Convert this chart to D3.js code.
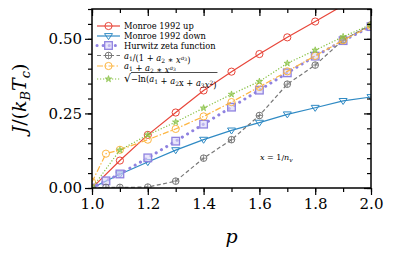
<!DOCTYPE html>
<html>
<head>
<meta charset="utf-8">
<script src="https://cdn.jsdelivr.net/npm/d3@7"></script>
<style>
  body { margin: 0; background: #fff; }
  svg { display: block; }
  svg text { font-family: 'DejaVu Serif', serif; fill: #000; font-weight: normal; }
</style>
</head>
<body>
<div id="chart"></div>
<script>
// p values (two grids: some series have an extra point at 1.05)
const pCoarse = [1.0, 1.1, 1.2, 1.3, 1.4, 1.5, 1.6, 1.7, 1.8, 1.9, 2.0];
const pFine = [1.0, 1.05, 1.1, 1.2, 1.3, 1.4, 1.5, 1.6, 1.7, 1.8, 1.9, 2.0];

const monroeUp = [0, 0.092, 0.178, 0.253, 0.327, 0.390, 0.449, 0.505, 0.558, 0.612, 0.665];
const monroeDown = [0, 0.046, 0.087, 0.127, 0.162, 0.193, 0.219, 0.247, 0.269, 0.292, 0.305];
const hurwitz = [0, 0.024, 0.047, 0.101, 0.157, 0.214, 0.271, 0.328, 0.386, 0.442, 0.494, 0.541];
const fitRational = [0, 0.002, 0.002, 0.003, 0.023, 0.100, 0.162, 0.243, 0.348, 0.412, 0.496, 0.547];
const fitPower = [0.02, 0.115, 0.128, 0.162, 0.198, 0.240, 0.288, 0.339, 0.391, 0.443, 0.495, 0.543];
const fitSqrtLog = [0, 0.127, 0.178, 0.221, 0.268, 0.314, 0.357, 0.418, 0.462, 0.507, 0.548];

const xTicks = [1.0, 1.2, 1.4, 1.6, 1.8, 2.0];
const yTicks = [0.00, 0.25, 0.50];

const width = 395, height = 256;
const margin = { left: 92, right: 24, top: 9, bottom: 68 };

const svg = d3.select("#chart").append("svg")
    .attr("width", width)
    .attr("height", height);

const x = d3.scaleLinear().domain([1, 2]).range([margin.left, width - margin.right]);
const y = d3.scaleLinear().domain([0, 0.6]).range([height - margin.bottom, margin.top]);

svg.append("clipPath").attr("id", "plot-clip")
  .append("rect")
    .attr("x", x(1)).attr("y", y(0.6))
    .attr("width", x(2) - x(1)).attr("height", y(0) - y(0.6));

// series definitions (style only; values come from the arrays above)
const series = [
  { p: pCoarse, v: monroeUp, color: "#e8463a", width: 1.2, dash: null, marker: "circle" },
  { p: pCoarse, v: monroeDown, color: "#2f8ac4", width: 1.2, dash: null, marker: "triDown" },
  { p: pFine, v: hurwitz, color: "#8f82e0", width: 3, dash: "0.1,6", cap: "round", marker: "square" },
  { p: pFine, v: fitRational, color: "#777777", width: 1.2, dash: "4,2.5", marker: "oplus" },
  { p: pFine, v: fitPower, color: "#fdb643", width: 1.2, dash: "6,2,1.5,2", marker: "circle" },
  { p: pCoarse, v: fitSqrtLog, color: "#86c040", width: 1.2, dash: "1.2,1.8", marker: "star" }
];

const line = d3.line().x(d => x(d[0])).y(d => y(d[1]));

function drawMarker(g, type, cx, cy, color) {
  if (type === "circle") {
    g.append("circle").attr("cx", cx).attr("cy", cy).attr("r", 3.6)
      .attr("fill", "none").attr("stroke", color).attr("stroke-width", 1);
  } else if (type === "triDown") {
    const s = 4;
    g.append("path")
      .attr("d", `M${cx - s},${cy - s * 0.6}L${cx + s},${cy - s * 0.6}L${cx},${cy + s * 0.9}Z`)
      .attr("fill", "none").attr("stroke", color).attr("stroke-width", 1);
  } else if (type === "square") {
    g.append("rect").attr("x", cx - 3.8).attr("y", cy - 3.8).attr("width", 7.6).attr("height", 7.6)
      .attr("fill", "#d9d4f7").attr("fill-opacity", 0.6).attr("stroke", color).attr("stroke-width", 1.3);
  } else if (type === "oplus") {
    g.append("circle").attr("cx", cx).attr("cy", cy).attr("r", 3.3)
      .attr("fill", "none").attr("stroke", color).attr("stroke-width", 1);
    g.append("path").attr("d", `M${cx - 3.3},${cy}H${cx + 3.3}M${cx},${cy - 3.3}V${cy + 3.3}`)
      .attr("stroke", color).attr("stroke-width", 0.8);
  } else if (type === "star") {
    g.append("path")
      .attr("d", d3.symbol().type(d3.symbolStar).size(13)())
      .attr("transform", `translate(${cx},${cy})`)
      .attr("fill", color).attr("fill-opacity", 0.6).attr("stroke", color).attr("stroke-width", 0.7);
  }
}

const plot = svg.append("g").attr("clip-path", "url(#plot-clip)");

series.forEach(s => {
  const pts = s.p.map((p, i) => [p, s.v[i]]);
  plot.append("path")
    .datum(pts)
    .attr("d", line)
    .attr("fill", "none")
    .attr("stroke", s.color)
    .attr("stroke-width", s.width)
    .attr("stroke-dasharray", s.dash)
    .attr("stroke-linecap", s.cap || "butt");
  const mg = plot.append("g");
  pts.forEach(d => drawMarker(mg, s.marker, x(d[0]), y(d[1]), s.color));
});

// ---------------- axes ----------------
const xMinor = d3.range(1.0, 2.001, 0.1);
const yMinor = d3.range(0, 0.601, 0.05);

svg.append("g").attr("transform", `translate(0,${y(0)})`)
  .call(d3.axisBottom(x).tickValues(xTicks).tickFormat(d3.format(".1f")).tickSize(7).tickPadding(3));
svg.append("g").attr("transform", `translate(0,${y(0)})`)
  .call(d3.axisBottom(x).tickValues(xMinor).tickFormat("").tickSize(4));
svg.append("g").attr("transform", `translate(${x(1)},0)`)
  .call(d3.axisLeft(y).tickValues(yTicks).tickFormat(d3.format(".2f")).tickSize(7).tickPadding(3));
svg.append("g").attr("transform", `translate(${x(1)},0)`)
  .call(d3.axisLeft(y).tickValues(yMinor).tickFormat("").tickSize(4));
// top and right: inward ticks
svg.append("g").attr("transform", `translate(0,${y(0.6)})`)
  .call(d3.axisTop(x).tickValues(xTicks).tickFormat("").tickSize(-7));
svg.append("g").attr("transform", `translate(0,${y(0.6)})`)
  .call(d3.axisTop(x).tickValues(xMinor).tickFormat("").tickSize(-4));
svg.append("g").attr("transform", `translate(${x(2)},0)`)
  .call(d3.axisRight(y).tickValues(yTicks).tickFormat("").tickSize(-7));
svg.append("g").attr("transform", `translate(${x(2)},0)`)
  .call(d3.axisRight(y).tickValues(yMinor).tickFormat("").tickSize(-4));

svg.selectAll(".domain").remove();
svg.selectAll("g").attr("font-family", null).attr("font-size", null);
svg.selectAll(".tick line").attr("stroke", "#000").attr("stroke-width", 1.2);
svg.selectAll(".tick text").style("font-size", "15px").attr("fill", "#000");

svg.append("rect")
  .attr("x", x(1)).attr("y", y(0.6))
  .attr("width", x(2) - x(1)).attr("height", y(0) - y(0.6))
  .attr("fill", "none").attr("stroke", "#000").attr("stroke-width", 1.5);

// axis labels
svg.append("text")
  .attr("x", (x(1) + x(2)) / 2).attr("y", 243)
  .attr("text-anchor", "middle")
  .style("font-size", "19px").style("font-style", "italic")
  .text("p");

const yl = svg.append("text")
  .attr("transform", `translate(26,${(y(0) + y(0.6)) / 2}) rotate(-90)`)
  .attr("text-anchor", "middle")
  .style("font-size", "19px");
yl.append("tspan").style("font-style", "italic").text("J");
yl.append("tspan").text("/(");
yl.append("tspan").style("font-style", "italic").text("k");
yl.append("tspan").style("font-style", "italic").style("font-size", "13px").attr("dy", 4).text("B");
yl.append("tspan").style("font-style", "italic").attr("dy", -4).text("T");
yl.append("tspan").style("font-style", "italic").style("font-size", "13px").attr("dy", 4).text("c");
yl.append("tspan").attr("dy", -4).text(")");

// annotation
const ann = svg.append("text").attr("x", 260).attr("y", 160).style("font-size", "8px");
ann.append("tspan").style("font-style", "italic").text("x");
ann.append("tspan").text(" = 1/");
ann.append("tspan").style("font-style", "italic").text("n");
ann.append("tspan").style("font-style", "italic").style("font-size", "6px").attr("dy", 2).text("v");

// ---------------- legend ----------------
const legendRows = [26, 36, 45.5, 55.5, 66, 79];
const legend = svg.append("g").attr("class", "legend");

function word(t, txt, it) {
  t.append("tspan").style("font-style", it ? "italic" : "normal").text(txt);
}
function subscript(t, txt) {
  t.append("tspan").style("font-size", "6px").attr("dy", 2).text(txt);
  t.append("tspan").attr("dy", -2).text("");
}

series.forEach((s, i) => {
  const ly = legendRows[i];
  const g = legend.append("g");
  g.append("line").attr("x1", 97).attr("x2", 120).attr("y1", ly).attr("y2", ly)
    .attr("stroke", s.color).attr("stroke-width", s.width)
    .attr("stroke-dasharray", s.dash).attr("stroke-linecap", s.cap || "butt");
  drawMarker(g, s.marker, 108.5, ly, s.color);

  const t = g.append("text").attr("x", 124).attr("y", ly + 3).style("font-size", "8.3px");
  if (i === 0) t.text("Monroe 1992 up");
  else if (i === 1) t.text("Monroe 1992 down");
  else if (i === 2) t.text("Hurwitz zeta function");
  else if (i === 3) {
    word(t, "a", true); subscript(t, "1"); word(t, "/(1 + ", false);
    word(t, "a", true); subscript(t, "2"); word(t, " ∗ ", false); word(t, "x", true);
    t.append("tspan").style("font-size", "6px").attr("dy", -3).style("font-style", "italic").text("a");
    t.append("tspan").style("font-size", "4.5px").attr("dy", 1).text("3");
    t.append("tspan").attr("dy", 2).text(")");
  } else if (i === 4) {
    word(t, "a", true); subscript(t, "1"); word(t, " + ", false);
    word(t, "a", true); subscript(t, "2"); word(t, " ∗ ", false); word(t, "x", true);
    t.append("tspan").style("font-size", "6px").attr("dy", -3).style("font-style", "italic").text("a");
    t.append("tspan").style("font-size", "4.5px").attr("dy", 1).text("3");
  } else {
    t.append("tspan").style("font-size", "11px").text("√");
    word(t, "−ln(", false); word(t, "a", true); subscript(t, "1"); word(t, " + ", false);
    word(t, "a", true); subscript(t, "2"); word(t, "x + ", false);
    word(t, "a", true); subscript(t, "3"); word(t, "x", true);
    t.append("tspan").style("font-size", "6px").attr("dy", -3).text("2");
    t.append("tspan").attr("dy", 3).text(")");
    const bb = t.node().getBBox();
    g.append("line").attr("x1", 131).attr("x2", bb.x + bb.width + 1)
      .attr("y1", ly - 6.5).attr("y2", ly - 6.5)
      .attr("stroke", "#000").attr("stroke-width", 0.7);
  }
});
</script>
</body>
</html>
